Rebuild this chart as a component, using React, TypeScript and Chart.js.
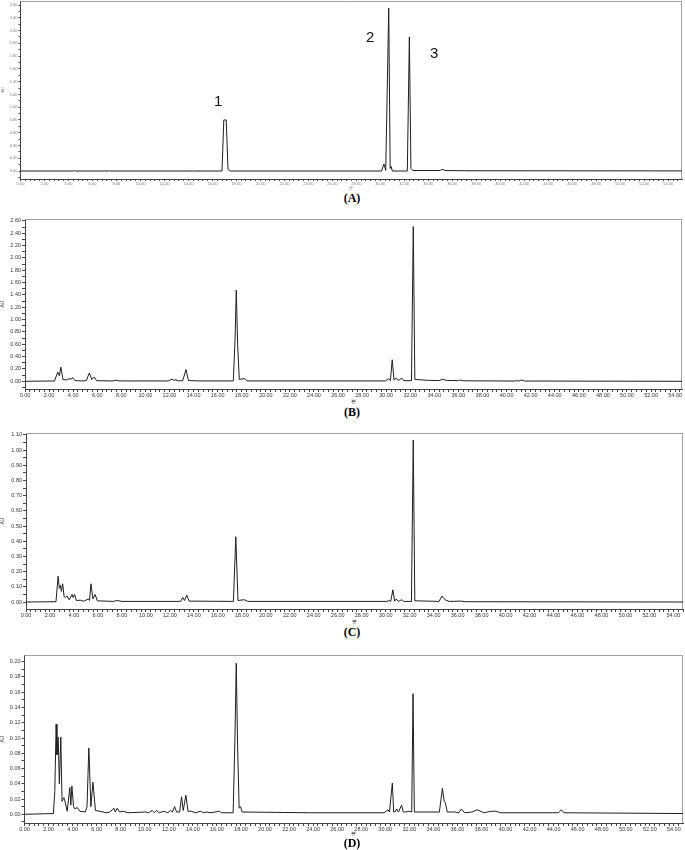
import React, { useEffect, useRef } from "react";
import { Chart, registerables } from "chart.js";

Chart.register(...registerables);
Chart.defaults.font.family = "'Liberation Sans', Arial, sans-serif";

// ---------------- DATA (retention time in min, absorbance in AU) ----------------
// (A) standard mixture
const timeA = [0, 4.4, 4.5, 4.6, 7.3, 7.4, 7.5, 14.2, 14.3, 14.4, 16.8, 16.95, 17.15, 17.3, 17.45,
  30.1, 30.3, 30.45, 30.7, 30.82, 30.9, 31.0, 32.25, 32.42, 32.55, 32.7, 35.0, 35.15, 35.4, 37.0, 55.15];
const auA = [0, 0, 0.006, 0, 0, 0.006, 0, 0, 0.005, 0, 0, 0.8, 0.8, 0.03, 0,
  0, 0.11, 0.01, 2.55, 0.04, 0.07, 0, 0, 2.1, 0.04, 0.008, 0.008, 0.028, 0.008, 0.004, 0.002];
const peakLabelsA = ["1", "2", "3"];

// (B)
const timeB = [0, 2.45, 2.72, 2.85, 2.98, 3.15, 3.45, 3.72, 3.83, 3.95, 4.15, 4.7, 5.1, 5.34, 5.55, 5.75, 5.95,
  7.3, 7.55, 7.85, 11.9, 12.22, 12.38, 12.52, 12.75, 13.1, 13.37, 13.58, 14.5,
  17.3, 17.45, 17.55, 17.66, 17.8, 18.25, 18.45,
  29.95, 30.2, 30.35, 30.5, 30.65, 30.85, 31.0, 31.3, 31.45, 32.1, 32.25, 32.38,
  33.5, 34.45, 34.65, 35.0, 36.0, 36.1, 36.4, 40.7, 40.85, 41.0, 41.25, 41.5, 54.57];
const auB = [0, 0.005, 0.15, 0.09, 0.23, 0.03, 0.02, 0.045, 0.03, 0.06, 0.012, 0.006, 0.012, 0.135, 0.03, 0.07, 0.01,
  0.005, 0.018, 0.006, 0.005, 0.035, 0.015, 0.025, 0.006, 0.01, 0.19, 0.012, 0.006,
  0.006, 0.7, 1.48, 0.6, 0.03, 0.045, 0.006,
  0.006, 0.04, 0.012, 0.35, 0.02, 0.05, 0.012, 0.05, 0.01, 0.01, 2.51, 0.03,
  0.015, 0.012, 0.035, 0.015, 0.01, 0.02, 0.008, 0.004, 0.012, 0.004, 0.02, 0.004, 0];

// (C)
const timeC = [0, 2.5, 2.68, 2.78, 2.88, 2.95, 3.06, 3.18, 3.3, 3.43, 3.6, 3.84, 3.93, 4.05, 4.2, 4.53, 4.8,
  5.2, 5.3, 5.42, 5.58, 5.76, 5.95, 7.3, 7.6, 8.0, 12.5, 12.9, 13.08, 13.22, 13.41, 13.6,
  17.3, 17.5, 17.68, 18.2, 18.5,
  30.1, 30.3, 30.42, 30.6, 30.75, 30.88, 31.05, 31.35, 31.5, 32.15, 32.3, 32.43,
  34.45, 34.7, 34.95, 35.3, 36.3, 36.6, 54.8];
const auC = [0, 0.002, 0.17, 0.09, 0.11, 0.07, 0.12, 0.035, 0.03, 0.04, 0.015, 0.05, 0.03, 0.05, 0.01, 0.012, 0.005,
  0.02, 0.01, 0.12, 0.02, 0.05, 0.008, 0.004, 0.01, 0.004, 0.004, 0.005, 0.03, 0.01, 0.045, 0.006,
  0.004, 0.43, 0.01, 0.015, 0.004,
  0.004, 0.01, 0.004, 0.08, 0.006, 0.02, 0.004, 0.015, 0.004, 0.004, 1.067, 0.008,
  0.004, 0.04, 0.015, 0.004, 0.006, 0.002, 0];

// (D)
const timeD = [0, 2.4, 2.52, 2.63, 2.7, 2.8, 2.9, 3.02, 3.12, 3.27, 3.4, 3.55, 3.77, 3.85, 3.94, 4.08, 4.2, 4.38, 4.6,
  5.05, 5.2, 5.35, 5.52, 5.69, 5.9, 6.27, 6.8, 7.1, 7.43, 7.55, 7.71, 7.9, 8.18, 8.6,
  10.07, 10.3, 10.62, 10.8, 10.98, 11.2, 11.59, 11.9, 12.15, 12.3, 12.48, 12.65, 12.9, 13.06, 13.2, 13.42, 13.6,
  13.87, 14.2, 14.64, 14.9, 15.1, 15.5, 16.2, 16.4,
  17.35, 17.5, 17.61, 17.72, 17.85, 17.97, 18.1, 23.8,
  29.9, 30.23, 30.35, 30.59, 30.7, 30.81, 30.95, 31.1, 31.36, 31.5, 31.7, 31.97, 32.2, 32.31, 32.42,
  33.64, 34.5, 34.75, 34.9, 35.0, 35.16, 35.77, 36.1, 36.33, 36.6, 37.2, 37.66, 38.2, 38.5, 38.85, 39.2, 39.6,
  44.4, 44.65, 44.85, 54.76];
const auD = [0, 0.001, 0.03, 0.118, 0.078, 0.101, 0.04, 0.101, 0.017, 0.022, 0.015, 0.004, 0.035, 0.012, 0.037, 0.01, 0.007, 0.009, 0.004,
  0.003, 0.01, 0.087, 0.01, 0.042, 0.005, 0.004, 0.002, 0.003, 0.008, 0.003, 0.008, 0.003, 0.004, 0.002,
  0.003, 0.002, 0.005, 0.002, 0.005, 0.002, 0.004, 0.002, 0.005, 0.003, 0.01, 0.003, 0.003, 0.023, 0.005, 0.025, 0.004,
  0.004, 0.002, 0.004, 0.002, 0.003, 0.002, 0.004, 0.002,
  0.002, 0.1, 0.198, 0.09, 0.008, 0.01, 0.003, 0.002,
  0.002, 0.006, 0.003, 0.041, 0.003, 0.003, 0.007, 0.003, 0.012, 0.003, 0.003, 0.004, 0.003, 0.158, 0.003,
  0.003, 0.003, 0.034, 0.017, 0.015, 0.003, 0.003, 0.002, 0.007, 0.002, 0.003, 0.006, 0.002, 0.003, 0.004, 0.004, 0.002,
  0.002, 0.006, 0.002, 0.001];

const panelCaptions = ["(A)", "(B)", "(C)", "(D)"];
const xAxisTitle = "분";
const yAxisTitle = "AU";
const xLabelEvery = 2; // min
const xMinorStep = 0.4; // min

// ---------------- LAYOUT / STYLE ----------------
type Panel = {
  t: number[];
  v: number[];
  top: number;
  height: number;
  yW: number;
  padTop: number;
  padRight: number;
  xH: number;
  xMax: number;
  yMin: number;
  yMax: number;
  yMinor: number;
  yLabel: number;
  font: number;
  titleFont: number;
  color: string;
  tick: number;
};

const panels: Panel[] = [
  { t: timeA, v: auA, top: 0, height: 190, yW: 20.5, padTop: 1, padRight: 3, xH: 11, xMax: 55.15,
    yMin: -0.125, yMax: 2.663, yMinor: 0.1, yLabel: 0.2, font: 4, titleFont: 4, color: "#777", tick: 2 },
  { t: timeB, v: auB, top: 205, height: 200, yW: 25, padTop: 14, padRight: 3, xH: 16, xMax: 54.57,
    yMin: -0.125, yMax: 2.632, yMinor: 0.1, yLabel: 0.2, font: 5.5, titleFont: 5, color: "#333", tick: 3 },
  { t: timeC, v: auC, top: 425, height: 200, yW: 26, padTop: 8, padRight: 2, xH: 16, xMax: 54.8,
    yMin: -0.046, yMax: 1.113, yMinor: 0.05, yLabel: 0.1, font: 5.5, titleFont: 5, color: "#333", tick: 3 },
  { t: timeD, v: auD, top: 645, height: 192, yW: 24.5, padTop: 10, padRight: 2, xH: 14, xMax: 54.76,
    yMin: -0.0114, yMax: 0.2088, yMinor: 0.01, yLabel: 0.02, font: 5.5, titleFont: 5, color: "#333", tick: 3 },
];

const captionTops = [191, 405, 625, 836];
const peakLabelPos = [
  { left: 214, top: 92 },
  { left: 366, top: 28 },
  { left: 430, top: 44 },
];

const LINE = "#1e1e1e";
const AXIS = "#444";
const FRAME = "#a0a0a0";

const isMultiple = (v: number, step: number) => {
  const r = v / step;
  return Math.abs(r - Math.round(r)) < 1e-6;
};

const framePlugin = {
  id: "frame",
  beforeDatasetsDraw(chart: any) {
    const { ctx, chartArea: a } = chart;
    ctx.save();
    ctx.strokeStyle = FRAME;
    ctx.lineWidth = 1;
    ctx.beginPath();
    ctx.moveTo(a.left, Math.round(a.top) + 0.5);
    ctx.lineTo(a.right, Math.round(a.top) + 0.5);
    ctx.moveTo(Math.round(a.right) - 0.5, a.top);
    ctx.lineTo(Math.round(a.right) - 0.5, a.bottom);
    ctx.stroke();
    ctx.restore();
  },
};

function ChromPanel({ p }: { p: Panel }) {
  const ref = useRef<HTMLCanvasElement | null>(null);
  useEffect(() => {
    if (!ref.current) return;
    const data = p.t.map((x, i) => ({ x, y: p.v[i] }));
    const chart = new Chart(ref.current, {
      type: "line",
      data: {
        datasets: [
          {
            data,
            borderColor: LINE,
            borderWidth: 1,
            pointRadius: 0,
            tension: 0,
            fill: false,
          },
        ],
      },
      options: {
        animation: false,
        responsive: false,
        events: [],
        plugins: { legend: { display: false }, tooltip: { enabled: false } },
        layout: { padding: { left: 0, top: p.padTop, right: p.padRight, bottom: 0 } },
        scales: {
          x: {
            type: "linear",
            min: 0,
            max: p.xMax,
            afterFit: (s: any) => {
              s.height = p.xH;
              s.paddingLeft = 0;
              s.paddingRight = 0;
            },
            grid: { drawOnChartArea: false, drawTicks: true, tickLength: p.tick, color: AXIS },
            border: { color: AXIS, width: 1 },
            ticks: {
              stepSize: xMinorStep,
              autoSkip: false,
              maxRotation: 0,
              minRotation: 0,
              includeBounds: false,
              padding: 0,
              color: p.color,
              font: { size: p.font },
              callback: (v: any) => (isMultiple(Number(v), xLabelEvery) ? Number(v).toFixed(2) : ""),
            },
            title: { display: true, text: xAxisTitle, color: p.color, font: { size: p.titleFont }, padding: 0 },
          },
          y: {
            type: "linear",
            min: p.yMin,
            max: p.yMax,
            afterFit: (s: any) => {
              s.width = p.yW;
              s.paddingTop = 0;
              s.paddingBottom = 0;
            },
            grid: { drawOnChartArea: false, drawTicks: true, tickLength: p.tick, color: AXIS },
            border: { color: AXIS, width: 1 },
            ticks: {
              stepSize: p.yMinor,
              autoSkip: false,
              includeBounds: false,
              padding: 1,
              color: p.color,
              font: { size: p.font },
              callback: (v: any) => {
                const n = Number(v);
                return n > -1e-9 && isMultiple(n, p.yLabel) ? Math.abs(n).toFixed(2) : "";
              },
            },
            title: { display: true, text: yAxisTitle, color: p.color, font: { size: p.titleFont }, padding: 0 },
          },
        },
      } as any,
      plugins: [framePlugin],
    });
    return () => chart.destroy();
  }, [p]);
  return (
    <canvas
      ref={ref}
      width={685}
      height={p.height}
      style={{ position: "absolute", left: 0, top: p.top, width: 685, height: p.height, display: "block" }}
    />
  );
}

export default function App() {
  return (
    <div
      style={{
        position: "absolute",
        left: 0,
        top: 0,
        width: 685,
        height: 850,
        background: "#fff",
        overflow: "hidden",
      }}
    >
      {panels.map((p, i) => (
        <ChromPanel key={i} p={p} />
      ))}
      {peakLabelsA.map((s, i) => (
        <div
          key={"pk" + i}
          style={{
            position: "absolute",
            left: peakLabelPos[i].left,
            top: peakLabelPos[i].top,
            fontFamily: "'Liberation Sans', Arial, sans-serif",
            fontSize: 15,
            lineHeight: "17px",
            color: "#111",
          }}
        >
          {s}
        </div>
      ))}
      {panelCaptions.map((c, i) => (
        <div
          key={"cap" + i}
          style={{
            position: "absolute",
            left: 0,
            width: 704,
            top: captionTops[i],
            textAlign: "center",
            fontFamily: "'Liberation Serif', 'Times New Roman', serif",
            fontWeight: "bold",
            fontSize: 12,
            lineHeight: "14px",
            color: "#000",
          }}
        >
          {c}
        </div>
      ))}
    </div>
  );
}
